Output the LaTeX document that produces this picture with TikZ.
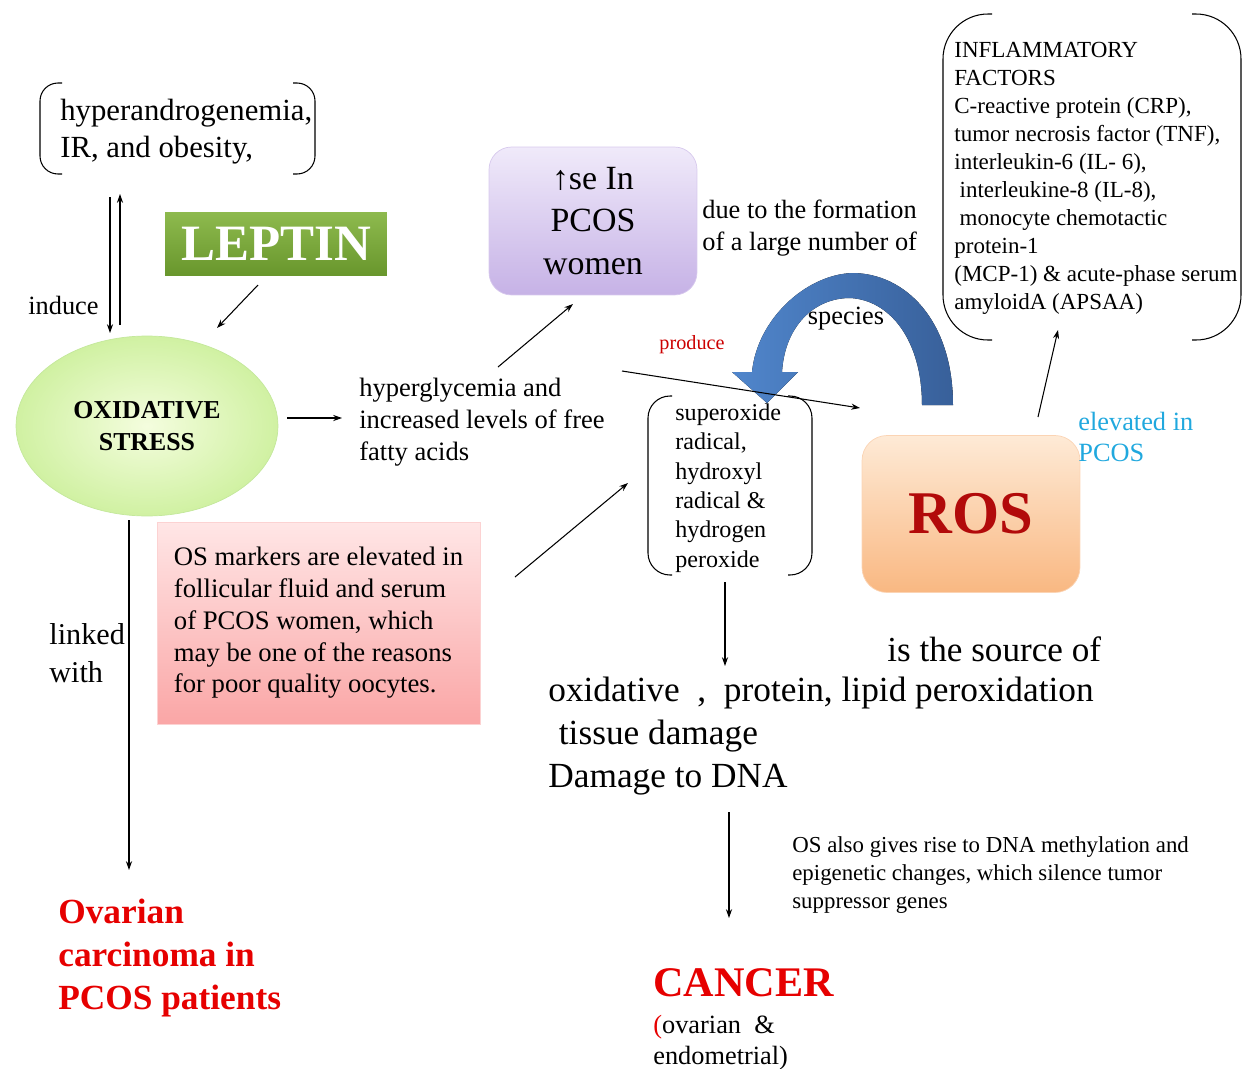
\documentclass[tikz,border=0pt]{standalone}
\usepackage{fontspec}
\setmainfont{Liberation Serif}
\usetikzlibrary{arrows.meta,shapes.geometric,positioning,calc}

\definecolor{leptTop}{RGB}{142,186,78}
\definecolor{leptBot}{RGB}{104,150,44}
\definecolor{osIn}{RGB}{244,253,222}
\definecolor{osOut}{RGB}{208,241,162}
\definecolor{osLine}{RGB}{196,232,156}
\definecolor{pcosTop}{RGB}{240,234,250}
\definecolor{pcosBot}{RGB}{198,178,230}
\definecolor{rosTop}{RGB}{254,234,214}
\definecolor{rosBot}{RGB}{249,184,130}
\definecolor{rosText}{RGB}{178,10,10}
\definecolor{pinkTop}{RGB}{255,230,230}
\definecolor{pinkBot}{RGB}{250,166,166}
\definecolor{bendL}{RGB}{80,134,204}
\definecolor{bendR}{RGB}{56,96,154}
\definecolor{elevCyan}{RGB}{32,168,222}
\definecolor{alertRed}{RGB}{230,0,0}

\newcommand{\setfs}[2]{\fontsize{#1}{#2}\selectfont}

\begin{document}
\begin{tikzpicture}[x=0.02cm, y=-0.02cm,
  lbl/.style={inner sep=0pt, anchor=west, align=left},
  conn/.style={line width=0.6pt, -{Stealth[length=5pt, width=3.5pt]}},
  brk/.style={line width=0.6pt}]
  \useasboundingbox (0,0) rectangle (1249,1069);

  % Brackets round the text blocks
  \foreach \xl/\xr/\yt/\yb/\st/\rad in {40/315/83/174/22/0.36cm, 648/812/396/575/24/0.44cm, 943/1241/14/340/49/0.9cm} {
    \draw[brk, rounded corners=\rad] (\xl+\st,\yt) -- (\xl,\yt) -- (\xl,\yb) -- (\xl+\st,\yb);
    \draw[brk, rounded corners=\rad] (\xr-\st,\yt) -- (\xr,\yt) -- (\xr,\yb) -- (\xr-\st,\yb);
  }

  % Boxes
  \node[top color=leptTop, bottom color=leptBot, minimum width=4.44cm, minimum height=1.28cm,
        inner sep=0pt, font=\setfs{29}{34}\bfseries, text=white] (leptin) at (276,244) {LEPTIN};
  \node[ellipse, draw=osLine, inner color=osIn, outer color=osOut, minimum width=5.24cm,
        minimum height=3.6cm, align=center, font=\setfs{14.7}{18.1}\bfseries] (ox) at (147,426) {OXIDATIVE\\STRESS};
  \node[rounded corners=0.45cm, draw=pcosBot!70, top color=pcosTop, bottom color=pcosBot,
        minimum width=4.16cm, minimum height=2.96cm, align=center, font=\setfs{19.3}{24.4}] (pcos) at (593,221) {↑se In\\PCOS\\women};
  \node[rounded corners=0.5cm, draw=rosBot!60, top color=rosTop, bottom color=rosBot,
        minimum width=4.36cm, minimum height=3.14cm, font=\setfs{34.5}{40}\bfseries, text=rosText] (ros) at (971,514) {ROS};
  \node[draw=pinkBot!50, top color=pinkTop, bottom color=pinkBot, minimum width=6.46cm,
        minimum height=4.04cm, align=left, font=\setfs{15.2}{18.1}] (osmark) at (318.5,623)
        {OS markers are elevated in\\follicular fluid and serum\\of PCOS women, which\\may be one of the reasons\\for poor quality oocytes.};

  % Text
  \node[lbl, font=\setfs{17.5}{21}] (hyper) at (60,132) {hyperandrogenemia,\\IR, and obesity,};
  \node[lbl, font=\setfs{15}{18}] (induce) at (28,305) {induce};
  \node[lbl, font=\setfs{15}{18.1}] (due) at (702,228) {due to the formation\\of a large number of};
  \node[inner sep=0pt, font=\setfs{15}{18}] (species) at (846,319) {species};
  \node[inner sep=0pt, font=\setfs{11.5}{14}, text=red!80!black] (produce) at (692,345) {produce};
  \node[lbl, font=\setfs{15.1}{18.1}] (hyperg) at (359,422) {hyperglycemia and\\increased levels of free\\fatty acids};
  \node[lbl, font=\setfs{13.7}{16.7}] (radicals) at (675,488) {superoxide\\radical,\\hydroxyl\\radical \&\\hydrogen\\peroxide};
  \node[lbl, font=\setfs{15}{17.6}, text=elevCyan] (elev) at (1078,437) {elevated in\\PCOS};
  \node[lbl, font=\setfs{13.1}{15.95}] (infl) at (954,178.5) {INFLAMMATORY\\FACTORS\\C-reactive protein (CRP),\\tumor necrosis factor (TNF),\\interleukin-6 (IL- 6),\\\hspace*{3pt}interleukine-8 (IL-8),\\\hspace*{3pt}monocyte chemotactic\\protein-1\\(MCP-1) \& acute-phase serum\\amyloidA (APSAA)};
  \node[lbl, font=\setfs{17.2}{21.5}] (linked) at (49,653) {linked\\with};
  \node[lbl, font=\setfs{20}{24.4}] (source) at (887,649) {is the source of};
  \node[lbl, font=\setfs{20.1}{24.4}] (damage) at (548,736) {oxidative\ \ ,\ \ protein, lipid peroxidation\\\hspace*{6pt}tissue damage\\Damage to DNA};
  \node[lbl, font=\setfs{13}{15.9}] (osalso) at (792,875) {OS also gives rise to DNA methylation and\\epigenetic changes, which silence tumor\\suppressor genes};
  \node[lbl, font=\setfs{20.1}{24.4}\bfseries, text=alertRed] (ovca) at (58,958) {Ovarian\\carcinoma in\\PCOS patients};
  \node[lbl, font=\setfs{24}{28}\bfseries, text=alertRed] (cancer) at (653,983) {CANCER};
  \node[lbl, font=\setfs{15}{17.6}] (cancertype) at (653,1043) {\textcolor{alertRed}{(}ovarian\ \ \&\\endometrial)};

  % Big curved arrow from ROS back to the radicals
  \fill[left color=bendL, right color=bendR]
    (953,405) .. controls (953,320) and (905,273) .. (852,273)
    .. controls (805,275) and (757,320) .. (752,372)
    -- (732,372) -- (767,403) -- (798,372) -- (782,372)
    .. controls (785,325) and (815,298) .. (850,298)
    .. controls (890,300) and (922,340) .. (922,405) -- cycle;

  % Define points
  \coordinate (i1) at (110,197);  \coordinate (i2) at (110,333);
  \coordinate (u1) at (120,325);  \coordinate (u2) at (120,194);
  \coordinate (l1) at (258,285);  \coordinate (l2) at (217,328);
  \coordinate (o1) at (287,418);  \coordinate (o2) at (342,418);
  \coordinate (h1) at (498,367);  \coordinate (h2) at (573,304);
  \coordinate (p1) at (622,371);  \coordinate (p2) at (860,408);
  \coordinate (m1) at (515,577);  \coordinate (m2) at (628,483);
  \coordinate (r1) at (725,582);  \coordinate (r2) at (725,666);
  \coordinate (e1) at (1038,417); \coordinate (e2) at (1058,330);
  \coordinate (k1) at (129,520);  \coordinate (k2) at (129,870);
  \coordinate (d1) at (729,812);  \coordinate (d2) at (729,918);

  % Draw connectors
  \foreach \a/\b in {i1/i2, u1/u2, l1/l2, o1/o2, h1/h2, p1/p2, m1/m2, r1/r2, e1/e2, k1/k2, d1/d2}
    \draw[conn] (\a) -- (\b);
\end{tikzpicture}
\end{document}
